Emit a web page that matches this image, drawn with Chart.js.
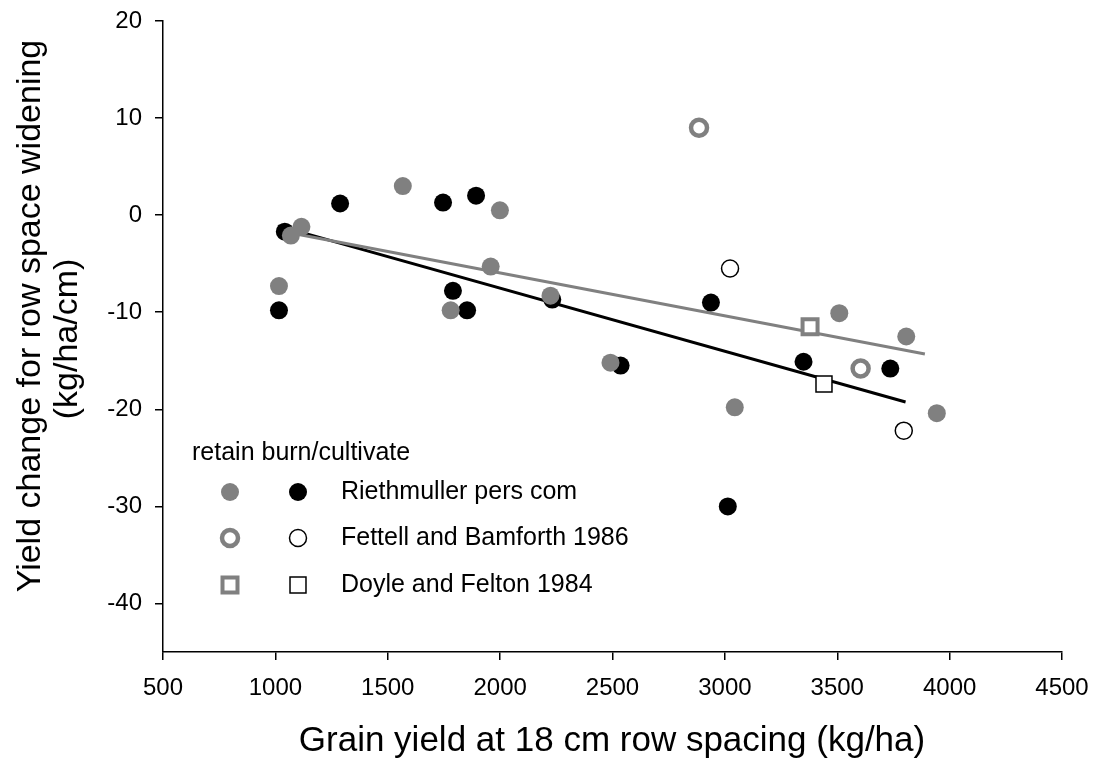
<!DOCTYPE html>
<html>
<head>
<meta charset="utf-8">
<title>Row spacing yield change</title>
<script src="https://cdn.jsdelivr.net/npm/chart.js@4.4.1/dist/chart.umd.min.js"></script>
<style>
  html, body { margin: 0; padding: 0; background: #fff; }
  #wrap { position: relative; width: 1095px; height: 763px; }
</style>
</head>
<body>
<div id="wrap"><canvas id="yieldChart"></canvas></div>
<script>
// Riethmuller pers com
const retainRiethX = [1016, 1069, 1116, 1567, 1780, 1958, 1999, 2224, 2491, 3044, 3509, 3807, 3943];
const retainRiethY = [-7.3, -2.1, -1.2, 3.0, -9.8, -5.3, 0.5, -8.3, -15.2, -19.8, -10.1, -12.5, -20.4];
const burnRiethX = [1016, 1042, 1288, 1746, 1790, 1853, 1893, 2232, 2536, 2938, 3013, 3350, 3736];
const burnRiethY = [-9.8, -1.7, 1.2, 1.3, -7.8, -9.8, 2.0, -8.7, -15.5, -9.0, -30.0, -15.1, -15.8];

// Fettell and Bamforth 1986
const retainFettellX = [2885, 3604];
const retainFettellY = [9.0, -15.8];
const burnFettellX = [3023, 3796];
const burnFettellY = [-5.5, -22.2];

// Doyle and Felton 1984
const retainDoyleX = [3379];
const retainDoyleY = [-11.5];
const burnDoyleX = [3441];
const burnDoyleY = [-17.4];

// linear trend lines, start and end points
const retainTrendX = [1040, 3890];
const retainTrendY = [-1.7, -14.3];
const burnTrendX = [1013, 3804];
const burnTrendY = [-1.1, -19.25];

const xTickValues = [500, 1000, 1500, 2000, 2500, 3000, 3500, 4000, 4500];
const yTickValues = [-40, -30, -20, -10, 0, 10, 20];

const legendHeading = 'retain burn/cultivate';
const legendLabels = ['Riethmuller pers com', 'Fettell and Bamforth 1986', 'Doyle and Felton 1984'];
const xTitle = 'Grain yield at 18 cm row spacing (kg/ha)';
const yTitle = ['Yield change for row space widening', '(kg/ha/cm)'];

const GREY = '#808080';
const FONT = "'Liberation Sans', Arial, sans-serif";

const pts = (xs, ys) => xs.map((x, i) => ({ x: x, y: ys[i] }));

// marker styles, shared by the datasets and the hand drawn legend
const markers = {
  retainRieth:   { pointStyle: 'circle', pointRadius: 9,    pointBackgroundColor: GREY,   pointBorderColor: GREY,   pointBorderWidth: 0 },
  burnRieth:     { pointStyle: 'circle', pointRadius: 9,    pointBackgroundColor: '#000', pointBorderColor: '#000', pointBorderWidth: 0 },
  retainFettell: { pointStyle: 'circle', pointRadius: 8,    pointBackgroundColor: '#fff', pointBorderColor: GREY,   pointBorderWidth: 4.5 },
  burnFettell:   { pointStyle: 'circle', pointRadius: 8.5,  pointBackgroundColor: '#fff', pointBorderColor: '#000', pointBorderWidth: 1.5 },
  retainDoyle:   { pointStyle: 'rect',   pointRadius: 10.6, pointBackgroundColor: '#fff', pointBorderColor: GREY,   pointBorderWidth: 4 },
  burnDoyle:     { pointStyle: 'rect',   pointRadius: 11.3, pointBackgroundColor: '#fff', pointBorderColor: '#000', pointBorderWidth: 1.5 }
};

function scatterSet(label, xs, ys, m) {
  return Object.assign({ label: label, data: pts(xs, ys), showLine: false }, m);
}

function trendSet(label, xs, ys, color) {
  return {
    label: label,
    data: pts(xs, ys),
    showLine: true,
    borderColor: color,
    borderWidth: 3,
    pointRadius: 0,
    fill: false
  };
}

function drawMarker(ctx, m, x, y) {
  ctx.save();
  ctx.fillStyle = m.pointBackgroundColor;
  ctx.strokeStyle = m.pointBorderColor;
  ctx.lineWidth = m.pointBorderWidth;
  ctx.beginPath();
  if (m.pointStyle === 'rect') {
    const s = Math.SQRT1_2 * m.pointRadius;
    ctx.rect(x - s, y - s, 2 * s, 2 * s);
  } else {
    ctx.arc(x, y, m.pointRadius, 0, Math.PI * 2);
  }
  ctx.fill();
  if (m.pointBorderWidth > 0) ctx.stroke();
  ctx.restore();
}

// axis titles and the two-column legend
const annotations = {
  id: 'annotations',
  afterDraw(chart) {
    const ctx = chart.ctx;
    ctx.save();
    ctx.fillStyle = '#000';
    ctx.textAlign = 'center';
    ctx.textBaseline = 'middle';

    ctx.font = '35px ' + FONT;
    ctx.fillText(xTitle, 612, 741);

    ctx.font = '34px ' + FONT;
    ctx.save();
    ctx.translate(31, 316);
    ctx.rotate(-Math.PI / 2);
    ctx.fillText(yTitle[0], 0, 0);
    ctx.restore();
    ctx.save();
    ctx.translate(68, 339);
    ctx.rotate(-Math.PI / 2);
    ctx.fillText(yTitle[1], 0, 0);
    ctx.restore();

    ctx.font = '25px ' + FONT;
    ctx.textAlign = 'left';
    ctx.fillText(legendHeading, 192, 453);

    const rows = [
      [markers.retainRieth, markers.burnRieth],
      [markers.retainFettell, markers.burnFettell],
      [markers.retainDoyle, markers.burnDoyle]
    ];
    const rowY = [492, 538, 585];
    rows.forEach((pair, i) => {
      drawMarker(ctx, pair[0], 230, rowY[i]);
      drawMarker(ctx, pair[1], 298, rowY[i]);
      ctx.fillText(legendLabels[i], 341, rowY[i]);
    });
    ctx.restore();
  }
};

const ctx = document.getElementById('yieldChart').getContext('2d');
new Chart(ctx, {
  type: 'scatter',
  data: {
    datasets: [
      scatterSet('retain Riethmuller', retainRiethX, retainRiethY, markers.retainRieth),
      scatterSet('retain Fettell', retainFettellX, retainFettellY, markers.retainFettell),
      scatterSet('retain Doyle', retainDoyleX, retainDoyleY, markers.retainDoyle),
      scatterSet('burn Riethmuller', burnRiethX, burnRiethY, markers.burnRieth),
      scatterSet('burn Fettell', burnFettellX, burnFettellY, markers.burnFettell),
      scatterSet('burn Doyle', burnDoyleX, burnDoyleY, markers.burnDoyle),
      trendSet('retain trend', retainTrendX, retainTrendY, GREY),
      trendSet('burn trend', burnTrendX, burnTrendY, '#000')
    ]
  },
  options: {
    responsive: true,
    maintainAspectRatio: false,
    animation: false,
    layout: { padding: { top: 21, right: 33, left: 0, bottom: 0 } },
    plugins: {
      legend: { display: false },
      tooltip: { enabled: false }
    },
    scales: {
      x: {
        type: 'linear',
        min: 500,
        max: 4500,
        afterBuildTicks: (scale) => { scale.ticks = xTickValues.map(v => ({ value: v })); },
        afterFit: (scale) => {
          scale.height = 111;
          scale.paddingLeft = 0;
          scale.paddingRight = 0;
        },
        border: { display: true, color: '#000', width: 1.5 },
        grid: { display: true, drawOnChartArea: false, drawTicks: true, tickLength: 8, color: '#000', lineWidth: 1.5 },
        ticks: { color: '#000', padding: 14, maxRotation: 0, font: { family: FONT, size: 24 }, callback: (v) => String(v) }
      },
      y: {
        type: 'linear',
        min: -45,
        max: 20,
        afterBuildTicks: (scale) => { scale.ticks = yTickValues.map(v => ({ value: v })); },
        afterFit: (scale) => {
          scale.width = 163;
          scale.paddingTop = 0;
          scale.paddingBottom = 0;
        },
        border: { display: true, color: '#000', width: 1.5 },
        grid: { display: true, drawOnChartArea: false, drawTicks: true, tickLength: 8, color: '#000', lineWidth: 1.5 },
        ticks: { color: '#000', padding: 13, font: { family: FONT, size: 24 }, callback: (v) => String(v) }
      }
    }
  },
  plugins: [annotations]
});
</script>
</body>
</html>
